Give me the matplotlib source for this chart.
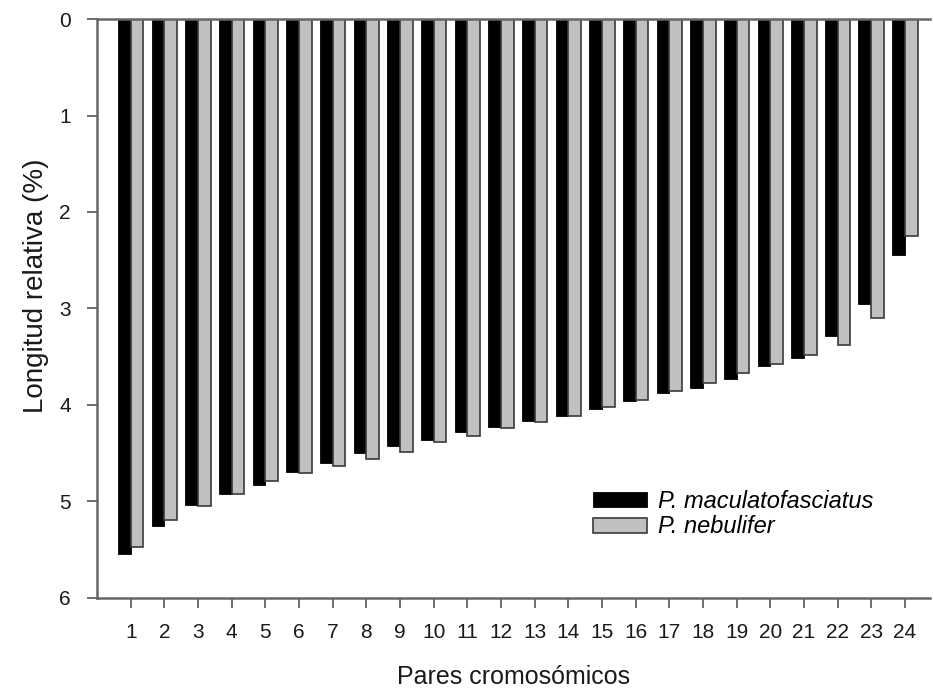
import matplotlib
matplotlib.use("Agg")
import matplotlib.pyplot as plt
import numpy as np

plt.rcParams['font.family'] = ['Liberation Sans', 'DejaVu Sans']

pairs = [str(i) for i in range(1, 25)]
maculatofasciatus = [5.55, 5.25, 5.04, 4.92, 4.83, 4.70, 4.60, 4.50, 4.43, 4.36,
                     4.28, 4.23, 4.17, 4.11, 4.04, 3.96, 3.88, 3.82, 3.73, 3.60,
                     3.51, 3.29, 2.95, 2.45]
nebulifer = [5.47, 5.19, 5.05, 4.92, 4.79, 4.71, 4.63, 4.56, 4.49, 4.38,
             4.32, 4.24, 4.18, 4.11, 4.02, 3.95, 3.86, 3.77, 3.67, 3.58,
             3.48, 3.38, 3.10, 2.25]

fig = plt.figure(figsize=(9.33, 6.92), dpi=100)
ax = fig.add_axes([0.104, 0.136, 0.893, 0.8365])

x = np.arange(1, len(pairs) + 1)
w = 0.38
ax.bar(x - w / 2, maculatofasciatus, width=w, color='black', edgecolor='black',
       linewidth=0.6, label='P. maculatofasciatus', zorder=2)
ax.bar(x + w / 2, nebulifer, width=w, color='#c0c0c0', edgecolor='#3a3a3a',
       linewidth=1.2, label='P. nebulifer', zorder=2)

ax.set_ylim(6, 0)
ax.set_xlim(0, 24.75)
ax.set_yticks(range(0, 7))
ax.set_xticks(x)
ax.set_xticklabels(pairs)
ax.tick_params(axis='both', labelsize=15, direction='out', length=7, width=1.2,
               color='#555555', labelcolor='#1a1a1a')
ax.tick_params(axis='x', pad=11)
ax.tick_params(axis='y', pad=12)

for s in ['left', 'bottom', 'top']:
    ax.spines[s].set_color('#666666')
    ax.spines[s].set_linewidth(1.8)
ax.spines['right'].set_visible(False)

ax.set_ylabel('Longitud relativa (%)', fontsize=20, color='#1a1a1a')
ax.yaxis.set_label_coords(-0.058, 0.54)
ax.set_xlabel('Pares cromosómicos', fontsize=18, labelpad=17, color='#1a1a1a')

leg = ax.legend(loc='upper left', bbox_to_anchor=(593 / 933, 1 - 490 / 692),
                bbox_transform=fig.transFigure, frameon=False,
                prop={'style': 'italic', 'size': 17}, handlelength=2.3,
                handleheight=0.6, labelspacing=0.1, handletextpad=0.45,
                borderaxespad=0, borderpad=0)

fig.savefig('out.png', dpi=100)
